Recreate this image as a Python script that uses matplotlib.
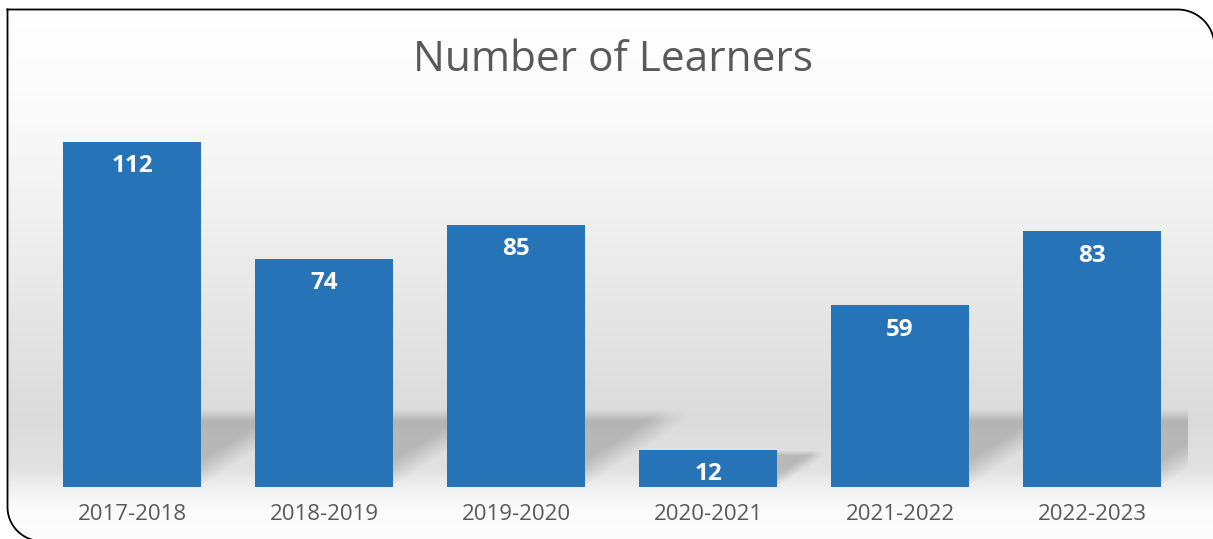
import numpy as np
import matplotlib
matplotlib.use('Agg')
import matplotlib.pyplot as plt
from matplotlib.path import Path
from matplotlib.patches import PathPatch

# ---- data ----
categories = ['2017-2018', '2018-2019', '2019-2020', '2020-2021', '2021-2022', '2022-2023']
learners = [112, 74, 85, 12, 59, 83]
title = 'Number of Learners'

BAR_COLOR = '#2673B8'
TEXT_GRAY = '#595959'
FONT = ['Open Sans', 'DejaVu Sans']

W, H = 1213, 539
fig = plt.figure(figsize=(W / 100, H / 100), dpi=100)
fig.patch.set_facecolor('white')

# ---- background axes (pixel coordinates, y down) ----
bg = fig.add_axes([0, 0, 1, 1])
bg.set_xlim(0, W)
bg.set_ylim(H, 0)
bg.axis('off')

Lf, Tf, Rf, Bf = 7.5, 9.5, 1214.5, 560
r1, r2 = 37, 34
pts = [(Lf, Tf), (Rf - r1, Tf)]
t = np.linspace(-np.pi / 2, 0, 30)
cx, cy = Rf - r1, Tf + r1
pts += [(cx + r1 * np.cos(a), cy + r1 * np.sin(a)) for a in t]
pts += [(Rf, Bf), (Lf + r2, Bf)]
cx2, cy2 = Lf + r2, 507
t2 = np.linspace(np.pi / 2, np.pi, 30)
# arc from bottom (going up-left) to left side
arc2 = [(cx2 + r2 * np.cos(a), cy2 + r2 * np.sin(a)) for a in t2]
pts += [(cx2, Bf)] + arc2[1:]
pts += [(Lf, Tf)]
frame_path = Path(np.array(pts), closed=False)
clip_patch = PathPatch(Path(np.array(pts + [pts[0]]), closed=True), facecolor='none',
                       edgecolor='none', transform=bg.transData)
bg.add_patch(clip_patch)

rows = np.arange(H) + 0.5
stops_y = [0, 90, 200, 330, 420, 470, 492, 510, 539]
stops_v = [255, 252, 242, 228, 219, 226, 244, 251, 253]
g = np.interp(rows, stops_y, stops_v) / 255.0
grad = np.repeat(g[:, None], 4, axis=1)
img = np.dstack([grad, grad, grad])
im = bg.imshow(img, extent=(0, W, H, 0), aspect='auto', interpolation='bilinear', zorder=0)
im.set_clip_path(clip_patch)
bg.set_xlim(0, W)
bg.set_ylim(H, 0)

fx, fy = zip(*pts)
bg.plot(fx, fy, color='black', linewidth=1.3, zorder=5, solid_joinstyle='round')

# ---- main axes ----
px_per_unit = 345 / 112.0
top_px = 117.4
ax = fig.add_axes([36 / W, (H - 487) / H, 1152 / W, (487 - top_px) / H])
ax.patch.set_alpha(0)
ymax = (487 - top_px) / px_per_unit

x = np.arange(len(categories))
bw = 0.72

# soft floor shadows behind bars
SH_TOP = 25.0
SH_LEN = 0.62
ny, nx = 80, 80
vv, uu = np.mgrid[0:ny, 0:nx]
v = (ny - 1 - vv) / (ny - 1)
u = uu / (nx - 1)
for xi, val in zip(x, learners):
    top = min(val, SH_TOP)
    L = SH_LEN * top / SH_TOP
    xr = xi + bw / 2
    inside = np.clip((v - u) / 0.35, 0, 1)
    topfade = np.clip((1 - v) / 0.15, 0, 1)
    rightfade = np.clip((1 - u) / 0.4, 0, 1)
    a = 0.18 * inside * topfade * rightfade
    rgba = np.zeros((ny, nx, 4))
    rgba[..., 3] = a
    ax.imshow(rgba, extent=(xr, xr + L, 0, top), aspect='auto',
              interpolation='bilinear', zorder=1, clip_on=True)
ax.set_xlim(-0.5, len(categories) - 0.5)
ax.set_ylim(0, ymax)

bars = ax.bar(x, learners, width=bw, color=BAR_COLOR, zorder=2)

for xi, val in zip(x, learners):
    ax.annotate(str(val), xy=(xi, val), xytext=(0, -17.5), textcoords='offset points',
                ha='center', va='center', color='white', fontsize=17.5,
                fontweight='bold', family=FONT, zorder=3)

ax.set_xticks(x)
ax.set_xticklabels(categories, family=FONT, fontsize=16, color=TEXT_GRAY)
ax.tick_params(axis='x', length=0, pad=12)
ax.set_yticks([])
for s in ax.spines.values():
    s.set_visible(False)

fig.text(613 / W, 1 - 60 / H, title, ha='center', va='center', fontsize=30.5,
         color=TEXT_GRAY, family=FONT)

fig.savefig('out.png', dpi=100)
